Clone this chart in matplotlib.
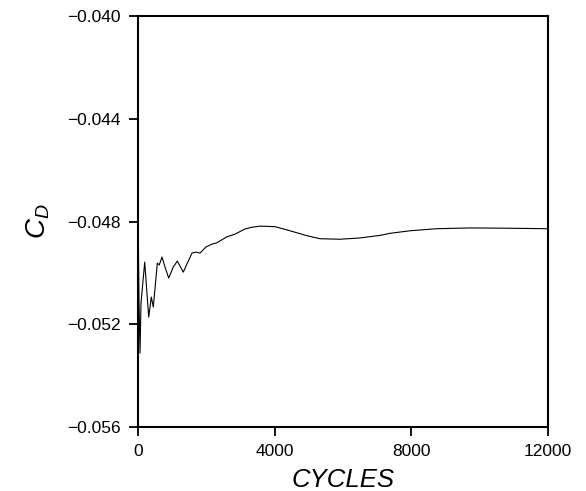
import matplotlib
matplotlib.use('Agg')
import matplotlib.pyplot as plt

plt.rcParams['font.family'] = ['Liberation Sans', 'DejaVu Sans']
plt.rcParams['mathtext.fontset'] = 'custom'
plt.rcParams['mathtext.rm'] = 'Liberation Sans'
plt.rcParams['mathtext.it'] = 'Liberation Sans:italic'

# historique de convergence du coefficient de traînée
cycles = [0, 29, 59, 88, 196, 313, 389, 448, 565, 623, 702, 799, 899, 1033,
          1150, 1326, 1443, 1581, 1698, 1815, 1990, 2166, 2304, 2596, 2839,
          3132, 3350, 3571, 4010, 4449, 4938, 5327, 5912, 6498, 7083, 7376,
          7961, 8743, 9717, 10683, 12000]
cd = [-0.04744, -0.05106, -0.05312, -0.05117, -0.04958, -0.05172, -0.05094,
      -0.05133, -0.04962, -0.04969, -0.04938, -0.04981, -0.05020, -0.04977,
      -0.04954, -0.04997, -0.04962, -0.04923, -0.04919, -0.04923, -0.04899,
      -0.04888, -0.04883, -0.04860, -0.04849, -0.04829, -0.04822, -0.04818,
      -0.04820, -0.04836, -0.04855, -0.04867, -0.04869, -0.04864, -0.04854,
      -0.04846, -0.04836, -0.04828, -0.04825, -0.04826, -0.04828]

x_ticks = [0, 4000, 8000, 12000]
y_ticks = [-0.056, -0.052, -0.048, -0.044, -0.040]

fig = plt.figure(figsize=(5.86, 4.91), dpi=100)
ax = fig.add_axes([0.2355, 0.1303, 0.6997, 0.8371])
ax.plot(cycles, cd, color='black', linewidth=0.8)

ax.set_xlim(0, 12000)
ax.set_ylim(-0.056, -0.040)
ax.set_xticks(x_ticks)
ax.set_yticks(y_ticks)
ax.set_yticklabels([f'{v:.3f}'.replace('-', '\u2212') for v in y_ticks])
ax.tick_params(direction='out', length=6.5, width=1.3, labelsize=12.5)
ax.tick_params(axis='x', pad=6)
ax.tick_params(axis='y', pad=6)

for s in ax.spines.values():
    s.set_linewidth(1.5)

ax.set_xlabel('CYCLES', fontsize=18.5, fontstyle='italic', labelpad=6)
ax.set_ylabel(r'$C_D$', fontsize=20, labelpad=11)

plt.savefig('out.png', dpi=100)
plt.close()
